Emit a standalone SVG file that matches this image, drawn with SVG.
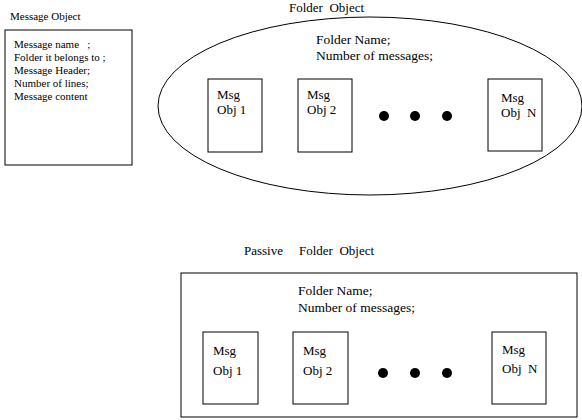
<svg xmlns="http://www.w3.org/2000/svg" width="582" height="420" viewBox="0 0 582 420" xml:space="preserve">
<style>
text{font-family:"Liberation Serif","Times New Roman",serif;fill:#000;white-space:pre}
.s{font-size:11px}
.m{font-size:13px}
.f{font-size:13.5px}
.b{fill:#fff;stroke:#000;stroke-width:1}
.d{fill:#000}
</style>
<rect width="582" height="420" fill="#fff"/>
<g id="message-object">
<text class="s" x="10" y="20" font-size="10.5">Message Object</text>
<rect class="b" x="5" y="30" width="127" height="135"/>
<text class="s" x="14" y="48">Message name   ;</text>
<text class="s" x="14" y="61">Folder it belongs to ;</text>
<text class="s" x="14" y="74">Message Header;</text>
<text class="s" x="14" y="87">Number of lines;</text>
<text class="s" x="14" y="100">Message content</text>
</g>
<g id="folder-object">
<text class="m" x="289" y="12">Folder  Object</text>
<ellipse class="b" cx="370" cy="106" rx="212" ry="89"/>
<text class="f" x="316" y="44">Folder Name;</text>
<text class="f" x="316" y="60">Number of messages;</text>
<g id="f-msg1"><rect class="b" x="208" y="79" width="54" height="73"/><text class="m" x="217" y="99">Msg</text><text class="m" x="217" y="114">Obj 1</text></g>
<g id="f-msg2"><rect class="b" x="298" y="79" width="54" height="73"/><text class="m" x="307" y="99">Msg</text><text class="m" x="307" y="114">Obj 2</text></g>
<circle class="d" cx="384" cy="116" r="5"/>
<circle class="d" cx="415" cy="116" r="5"/>
<circle class="d" cx="447" cy="116" r="5"/>
<g id="f-msgN"><rect class="b" x="488" y="79" width="54" height="72"/><text class="m" x="501" y="102">Msg</text><text class="m" x="501" y="117">Obj  N</text></g>
</g>
<g id="passive-folder-object">
<text class="m" x="244" y="255">Passive</text>
<text class="m" x="299" y="255">Folder  Object</text>
<rect class="b" x="181" y="273" width="396" height="144"/>
<text class="f" x="298" y="295">Folder Name;</text>
<text class="f" x="298" y="312">Number of messages;</text>
<g id="p-msg1"><rect class="b" x="203" y="332" width="55" height="72"/><text class="m" x="213" y="355">Msg</text><text class="m" x="213" y="375">Obj 1</text></g>
<g id="p-msg2"><rect class="b" x="293" y="332" width="55" height="72"/><text class="m" x="303" y="355">Msg</text><text class="m" x="303" y="375">Obj 2</text></g>
<circle class="d" cx="383" cy="373" r="5"/>
<circle class="d" cx="415" cy="373" r="5"/>
<circle class="d" cx="447" cy="373" r="5"/>
<g id="p-msgN"><rect class="b" x="492" y="332" width="54" height="72"/><text class="m" x="502" y="354">Msg</text><text class="m" x="502" y="373">Obj  N</text></g>
</g>
<g id="connectors"></g>
</svg>
